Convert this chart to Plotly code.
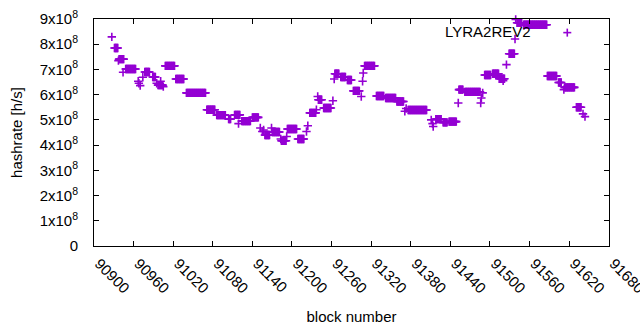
import numpy as np
import plotly.graph_objects as go

# Plateaus: first block, number of blocks, hashrate (x1e8 h/s)
run_start = [90931, 90938, 90948, 90977, 90989, 90997, 91008, 91024, 91040, 91071,
             91086, 91104, 91113, 91124, 91140, 91159, 91170, 91184, 91193, 91209,
             91227, 91240, 91248, 91265, 91274, 91284, 91293, 91310, 91328, 91342,
             91359, 91376, 91418, 91429, 91438, 91453, 91462, 91492, 91504, 91514,
             91529, 91541, 91551, 91587, 91604, 91613, 91631]
run_count = [6, 8, 16, 8, 5, 8, 15, 13, 30, 13,
             14, 4, 9, 14, 10, 8, 12, 8, 15, 10,
             10, 6, 12, 7, 8, 7, 10, 16, 12, 16,
             11, 29, 9, 7, 12, 7, 24, 10, 10, 9,
             9, 8, 36, 15, 5, 16, 8]
run_rate = [7.85, 7.41, 7.02, 6.90, 6.70, 6.38, 7.14, 6.62, 6.07, 5.40,
            5.19, 5.03, 5.20, 4.95, 5.10, 4.40, 4.52, 4.17, 4.64, 4.24,
            5.28, 5.80, 5.47, 6.83, 6.70, 6.58, 6.15, 7.14, 5.95, 5.87,
            5.73, 5.39, 5.03, 4.90, 4.93, 6.20, 6.11, 6.78, 6.83, 6.63,
            7.62, 8.85, 8.77, 6.74, 6.48, 6.29, 5.50]

# Isolated points (block, hashrate x1e8 h/s)
single_block = [90927, 90937, 90944, 90967, 90968, 90970, 90974, 90995, 91001, 91005,
                91119, 91152, 91155, 91157, 91169, 91183, 91192, 91222, 91224, 91237,
                91239, 91262, 91264, 91305, 91307, 91308, 91371, 91373, 91411, 91413,
                91414, 91452, 91486, 91487, 91489, 91520, 91525, 91538, 91539, 91612,
                91641, 91644]
single_rate = [8.29, 7.35, 6.89, 6.53, 6.45, 6.36, 6.69, 6.45, 6.53, 6.32,
               4.85, 4.68, 4.54, 4.60, 4.68, 4.24, 4.34, 4.54, 4.77, 5.40,
               5.93, 5.76, 6.62, 5.93, 6.53, 6.86, 5.34, 5.45, 5.00, 4.85,
               4.74, 5.67, 5.67, 5.87, 6.07, 6.55, 7.19, 8.21, 8.98, 6.20,
               5.24, 5.13]

x_ticks = [90900, 90960, 91020, 91080, 91140, 91200, 91260, 91320, 91380, 91440,
           91500, 91560, 91620, 91680]
y_ticks = [0, 1, 2, 3, 4, 5, 6, 7, 8, 9]
series_name = "LYRA2REV2"

blocks = []
rates = []
for s, n, v in zip(run_start, run_count, run_rate):
    for b in range(s, s + n):
        blocks.append(b)
        rates.append(v * 1e8)
for b, v in zip(single_block, single_rate):
    blocks.append(b)
    rates.append(v * 1e8)
order = np.argsort(blocks, kind="stable")
blocks = np.array(blocks)[order]
rates = np.array(rates)[order]

PURPLE = "#9400D3"
FONT = "Liberation Sans, Arial, sans-serif"

fig = go.Figure()
fig.add_trace(go.Scatter(
    x=blocks, y=rates, mode="markers", name=series_name, showlegend=False,
    cliponaxis=False, hoverinfo="skip",
    marker=dict(symbol="cross-thin", size=6, color=PURPLE,
                line=dict(color=PURPLE, width=1.6)),
))

yticktext = ["0" if t == 0 else f"{t}x10<sup>8</sup>" for t in y_ticks]

axis_common = dict(showline=True, linecolor="black", linewidth=1, mirror="allticks",
                   ticks="inside", ticklen=5, tickcolor="black", tickwidth=1,
                   showgrid=False, zeroline=False, automargin=False,
                   ticklabeloverflow="allow",
                   tickfont=dict(family=FONT, size=15, color="black"))

fig.update_layout(
    width=640, height=330,
    margin=dict(l=94, r=31, t=19, b=84, autoexpand=False),
    paper_bgcolor="white", plot_bgcolor="white",
    font=dict(family=FONT, size=15, color="black"),
    xaxis=dict(range=[90900, 91680.4], tickvals=x_ticks,
               ticktext=[str(t) for t in x_ticks], tickangle=45,
               ticklabelstandoff=2, ticklabelshift=5,
               title=dict(text="block number", font=dict(family=FONT, size=15), standoff=16),
               **axis_common),
    yaxis=dict(range=[0, 9e8], tickvals=[t * 1e8 for t in y_ticks], ticktext=yticktext,
               ticklabelstandoff=12,
               title=dict(text="hashrate [h/s]", font=dict(family=FONT, size=15), standoff=13),
               **axis_common),
    annotations=[dict(text=series_name, xref="paper", yref="paper", x=0.852, y=0.943,
                      xanchor="right", yanchor="middle", showarrow=False,
                      font=dict(family=FONT, size=15, color="black"))],
    shapes=[
        dict(type="line", xref="paper", yref="paper", xsizemode="pixel", ysizemode="pixel",
             xanchor=0.919, yanchor=0.94, x0=-4, x1=4, y0=0, y1=0,
             line=dict(color=PURPLE, width=1.6)),
        dict(type="line", xref="paper", yref="paper", xsizemode="pixel", ysizemode="pixel",
             xanchor=0.919, yanchor=0.94, x0=0, x1=0, y0=-4, y1=4,
             line=dict(color=PURPLE, width=1.6)),
    ],
)

fig.write_html("out.html", config={"displayModeBar": False},
               post_script="document.body.style.margin='0';")
